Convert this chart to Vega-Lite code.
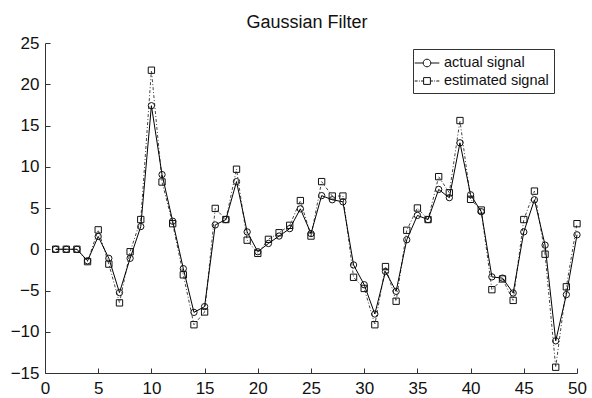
{
  "$schema": "https://vega.github.io/schema/vega-lite/v6.json",
  "autosize": "none",
  "width": 532,
  "height": 330,
  "padding": {"left": 45, "top": 43, "right": 15, "bottom": 25},
  "background": "white",
  "title": {"text": "Gaussian Filter", "fontSize": 18, "fontWeight": "normal", "font": "Liberation Sans", "color": "#111111", "anchor": "middle", "offset": 2, "dx": -4},
  "config": {
    "view": {"stroke": null},
    "axis": {"domainColor": "#333333", "tickColor": "#333333", "labelColor": "#111111", "labelFont": "Liberation Sans", "labelFontSize": 17, "grid": false, "title": null, "tickSize": -5, "domainWidth": 1, "tickWidth": 1, "labelFlush": false, "labelOverlap": false}
  },
  "resolve": {"scale": {"shape": "independent"}, "legend": {"shape": "independent"}},
  "data": {"values": [
    {"x": 1, "actual": 0, "estimated": 0},
    {"x": 2, "actual": 0, "estimated": 0},
    {"x": 3, "actual": 0, "estimated": 0},
    {"x": 4, "actual": -1.4, "estimated": -1.5},
    {"x": 5, "actual": 1.55, "estimated": 2.35},
    {"x": 6, "actual": -1.1, "estimated": -1.8},
    {"x": 7, "actual": -5.25, "estimated": -6.5},
    {"x": 8, "actual": -1.1, "estimated": -0.3},
    {"x": 9, "actual": 2.75, "estimated": 3.6},
    {"x": 10, "actual": 17.4, "estimated": 21.7},
    {"x": 11, "actual": 9.05, "estimated": 8.15},
    {"x": 12, "actual": 3.4, "estimated": 3.1},
    {"x": 13, "actual": -2.35, "estimated": -3.1},
    {"x": 14, "actual": -7.65, "estimated": -9.15},
    {"x": 15, "actual": -6.95, "estimated": -7.6},
    {"x": 16, "actual": 2.95, "estimated": 4.95},
    {"x": 17, "actual": 3.6, "estimated": 3.6},
    {"x": 18, "actual": 8.2, "estimated": 9.7},
    {"x": 19, "actual": 2.1, "estimated": 1.1},
    {"x": 20, "actual": -0.3, "estimated": -0.5},
    {"x": 21, "actual": 0.7, "estimated": 1.2},
    {"x": 22, "actual": 1.6, "estimated": 2.0},
    {"x": 23, "actual": 2.5, "estimated": 2.9},
    {"x": 24, "actual": 4.9, "estimated": 5.9},
    {"x": 25, "actual": 1.9, "estimated": 1.6},
    {"x": 26, "actual": 6.5, "estimated": 8.2},
    {"x": 27, "actual": 6.0, "estimated": 6.45},
    {"x": 28, "actual": 5.75, "estimated": 6.45},
    {"x": 29, "actual": -1.9, "estimated": -3.4},
    {"x": 30, "actual": -4.3, "estimated": -4.75},
    {"x": 31, "actual": -7.85, "estimated": -9.15},
    {"x": 32, "actual": -2.7, "estimated": -2.1},
    {"x": 33, "actual": -5.1, "estimated": -6.3},
    {"x": 34, "actual": 1.15, "estimated": 2.3},
    {"x": 35, "actual": 4.1, "estimated": 5.0},
    {"x": 36, "actual": 3.6, "estimated": 3.6},
    {"x": 37, "actual": 7.25, "estimated": 8.8},
    {"x": 38, "actual": 6.25, "estimated": 6.85},
    {"x": 39, "actual": 12.9, "estimated": 15.6},
    {"x": 40, "actual": 6.6, "estimated": 6.05},
    {"x": 41, "actual": 4.55, "estimated": 4.75},
    {"x": 42, "actual": -3.35, "estimated": -4.9},
    {"x": 43, "actual": -3.5, "estimated": -3.6},
    {"x": 44, "actual": -5.3, "estimated": -6.2},
    {"x": 45, "actual": 2.1, "estimated": 3.6},
    {"x": 46, "actual": 6.0, "estimated": 7.05},
    {"x": 47, "actual": 0.5, "estimated": -0.6},
    {"x": 48, "actual": -11.1, "estimated": -14.3},
    {"x": 49, "actual": -5.5, "estimated": -4.55},
    {"x": 50, "actual": 1.75, "estimated": 3.1}
  ]},
  "transform": [
    {"fold": ["actual", "estimated"], "as": ["key", "y"]},
    {"calculate": "datum.key === 'actual' ? 'actual signal' : 'estimated signal'", "as": "series"}
  ],
  "encoding": {
    "x": {"field": "x", "type": "quantitative", "scale": {"domain": [0, 50], "nice": false, "zero": false}, "axis": {"values": [0, 5, 10, 15, 20, 25, 30, 35, 40, 45, 50], "labelPadding": 12}},
    "y": {"field": "y", "type": "quantitative", "scale": {"domain": [-15, 25], "nice": false}, "axis": {"values": [-15, -10, -5, 0, 5, 10, 15, 20, 25], "labelPadding": 11}}
  },
  "layer": [
    {
      "transform": [{"filter": "datum.key === 'estimated'"}],
      "mark": {"type": "line", "strokeWidth": 1, "color": "#444444", "strokeDash": [3, 2, 1, 2]},
      "encoding": {}
    },
    {
      "transform": [{"filter": "datum.key === 'actual'"}],
      "mark": {"type": "line", "strokeWidth": 1, "color": "black"},
      "encoding": {}
    },
    {
      "mark": {"type": "point", "filled": false, "strokeWidth": 1, "size": 40, "opacity": 1, "color": "#111111"},
      "encoding": {
        "shape": {"field": "series", "type": "nominal", "scale": {"domain": ["actual signal", "estimated signal"], "range": ["circle", "square"]}, "legend": null}
      }
    },
    {
      "mark": {"type": "point", "filled": false, "strokeWidth": 1, "size": 0, "opacity": 1, "color": "#111111"},
      "encoding": {
        "shape": {"field": "series", "type": "nominal",
          "scale": {"domain": ["actual signal", "estimated signal"], "range": [
            "M-1.45,0H-0.45M0.45,0H1.45M-0.45,0A0.45,0.45 0 1,0 0.45,0A0.45,0.45 0 1,0 -0.45,0",
            "M-1.45,0H-1.1M-0.95,0H-0.85M-0.7,0H-0.4M0.4,0H0.7M0.85,0H0.95M1.1,0H1.45M-0.4,-0.4H0.4V0.4H-0.4Z"
          ]},
          "legend": {
            "title": null, "orient": "none", "legendX": 368, "legendY": 6,
            "strokeColor": "#333333", "fillColor": "white", "padding": 5,
            "labelFont": "Liberation Sans", "labelFontSize": 14.5, "labelColor": "#111111",
            "symbolSize": 289, "labelOffset": 8, "rowPadding": 2, "symbolOpacity": 1,
            "symbolStrokeColor": "#111111", "symbolFillColor": "transparent", "symbolStrokeWidth": 1
          }
        }
      }
    }
  ]
}
